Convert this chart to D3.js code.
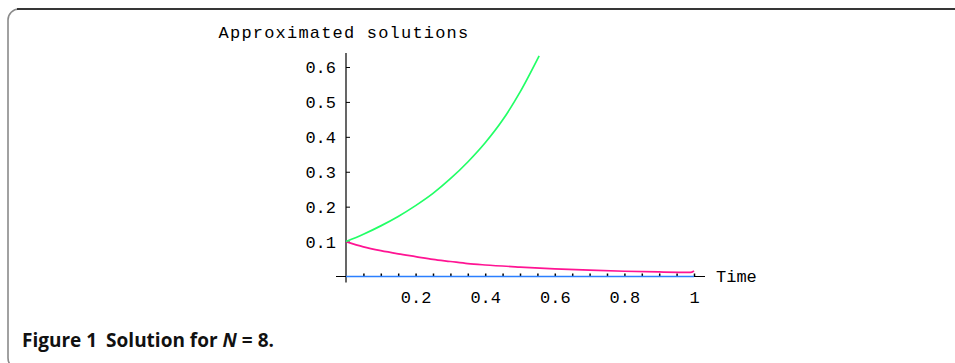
<!DOCTYPE html>
<html>
<head>
<meta charset="utf-8">
<script src="https://cdn.jsdelivr.net/npm/d3@7"></script>
<style>
  body { margin: 0; background: #fff; }
  svg { display: block; }
</style>
</head>
<body>
<div id="chart"></div>
<script>
// data
var times = [0, 0.05, 0.1, 0.15, 0.2, 0.25, 0.3, 0.35, 0.4, 0.45, 0.5, 0.555];
var greenVals = [0.100, 0.121, 0.145, 0.172, 0.203, 0.238, 0.280, 0.328, 0.383, 0.448, 0.528, 0.632];

var pinkTimes = [0, 0.05, 0.1, 0.15, 0.2, 0.25, 0.3, 0.35, 0.4, 0.5, 0.6, 0.7, 0.8, 0.9, 0.99, 1];
var pinkVals = [0.100, 0.085, 0.074, 0.065, 0.057, 0.049, 0.043, 0.037, 0.033, 0.027, 0.022, 0.018, 0.015, 0.013, 0.012, 0.016];

var blueTimes = [0, 1];
var blueVals = [0, 0];

var yTicks = [0.1, 0.2, 0.3, 0.4, 0.5, 0.6];
var xLabelTicks = [0.2, 0.4, 0.6, 0.8, 1];
var xMinorTicks = [0.05, 0.1, 0.15, 0.2, 0.25, 0.3, 0.35, 0.4, 0.45, 0.5, 0.55, 0.6, 0.65, 0.7, 0.75, 0.8, 0.85, 0.9, 0.95, 1];

var W = 955, H = 363;
var mono = "'Liberation Mono', 'DejaVu Sans Mono', monospace";

var svg = d3.select("#chart").append("svg")
  .attr("width", W)
  .attr("height", H);

// frame around the figure (rounded, runs off the right/bottom)
svg.append("rect")
  .attr("x", 8).attr("y", 9)
  .attr("width", 1000).attr("height", 360)
  .attr("rx", 11).attr("ry", 11)
  .attr("fill", "none")
  .attr("stroke", "#8a8a8a")
  .attr("stroke-width", 1.6);
svg.append("line")
  .attr("x1", 17).attr("x2", W)
  .attr("y1", 9).attr("y2", 9)
  .attr("stroke", "#111")
  .attr("stroke-width", 1.6);

// scales
var x = d3.scaleLinear().domain([0, 1]).range([346, 694]);
var y = d3.scaleLinear().domain([0, 0.6]).range([276.5, 67]);

// y axis line
svg.append("line")
  .attr("x1", x(0)).attr("x2", x(0))
  .attr("y1", y(0.64)).attr("y2", y(0) + 6)
  .attr("stroke", "#000").attr("stroke-width", 1.2);
// x axis line
svg.append("line")
  .attr("x1", x(0) - 10).attr("x2", x(1) + 11)
  .attr("y1", y(0)).attr("y2", y(0))
  .attr("stroke", "#000").attr("stroke-width", 1.2);

// y ticks and labels
var yAxis = svg.append("g")
  .attr("transform", "translate(" + x(0) + ",0)")
  .call(d3.axisLeft(y).tickValues(yTicks).tickFormat(d3.format(".1f"))
    .tickSizeInner(-4).tickSizeOuter(0).tickPadding(10));
yAxis.select(".domain").remove();
yAxis.selectAll("line").attr("stroke", "#000");
yAxis.selectAll("text")
  .attr("font-family", mono).attr("font-size", "17px").attr("fill", "#000");

// x minor ticks (small marks above the axis)
var xTickAxis = svg.append("g")
  .attr("transform", "translate(0," + y(0) + ")")
  .call(d3.axisBottom(x).tickValues(xMinorTicks).tickFormat("")
    .tickSizeInner(-3).tickSizeOuter(0));
xTickAxis.select(".domain").remove();
xTickAxis.selectAll("line").attr("stroke", "#000").attr("stroke-width", 1.5);

// the three solution curves
var line = d3.line()
  .x(function (d) { return x(d[0]); })
  .y(function (d) { return y(d[1]); })
  .curve(d3.curveMonotoneX);

var series = [
  { t: blueTimes, v: blueVals, color: "#2b7fff" },
  { t: pinkTimes, v: pinkVals, color: "#ff1493" },
  { t: times, v: greenVals, color: "#22ff66" }
];
series.forEach(function (s) {
  svg.append("path")
    .datum(s.t.map(function (t, i) { return [t, s.v[i]]; }))
    .attr("d", line)
    .attr("fill", "none")
    .attr("stroke", s.color)
    .attr("stroke-width", 1.7);
});

// x labels
var xLabelAxis = svg.append("g")
  .attr("transform", "translate(0," + y(0) + ")")
  .call(d3.axisBottom(x).tickValues(xLabelTicks).tickFormat(d3.format("~g"))
    .tickSize(0).tickPadding(14));
xLabelAxis.select(".domain").remove();
xLabelAxis.selectAll("text")
  .attr("font-family", mono).attr("font-size", "17px").attr("fill", "#000");

// axis titles
svg.append("text")
  .attr("x", 344).attr("y", 38)
  .attr("text-anchor", "middle")
  .attr("font-family", mono).attr("font-size", "17px")
  .attr("letter-spacing", "1.2px")
  .text("Approximated solutions");

svg.append("text")
  .attr("x", 716).attr("y", y(0) + 5)
  .attr("font-family", mono).attr("font-size", "17px")
  .text("Time");

// caption
var cap = svg.append("text")
  .attr("x", 22).attr("y", 347)
  .attr("font-family", "'Open Sans', 'Noto Sans', sans-serif")
  .attr("font-size", "19px").attr("font-weight", "bold")
  .attr("fill", "#111");
cap.append("tspan").text("Figure 1");
cap.append("tspan").attr("dx", 9).text("Solution for ");
cap.append("tspan").attr("font-style", "italic").text("N");
cap.append("tspan").text(" = 8.");
</script>
</body>
</html>
